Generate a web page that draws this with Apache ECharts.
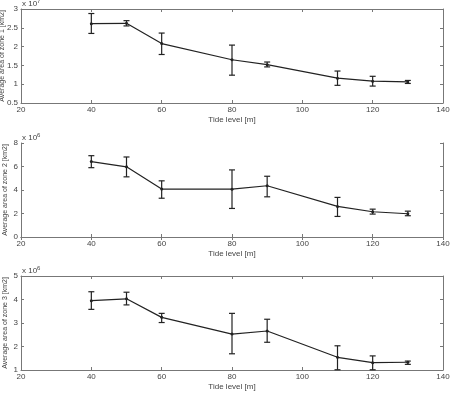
<!DOCTYPE html>
<html>
<head>
<meta charset="utf-8">
<script src="https://cdn.jsdelivr.net/npm/echarts@6/dist/echarts.min.js"></script>
<style>
  html, body { margin: 0; padding: 0; background: #fff; }
  #main { width: 451px; height: 393px; }
</style>
</head>
<body>
<div id="main"></div>
<script>
// tide levels (m)
var tideLevels = [40, 50, 60, 80, 90, 110, 120, 130];

// zone 1 (x 10^7 km2)
var zone1Mean = [2.61, 2.62, 2.08, 1.65, 1.52, 1.16, 1.08, 1.06];
var zone1Low  = [2.35, 2.55, 1.79, 1.24, 1.46, 0.97, 0.95, 1.02];
var zone1High = [2.88, 2.69, 2.36, 2.04, 1.59, 1.35, 1.21, 1.10];

// zone 2 (x 10^6 km2)
var zone2Mean = [6.42, 5.97, 4.08, 4.07, 4.36, 2.60, 2.15, 1.98];
var zone2Low  = [5.90, 5.12, 3.30, 2.43, 3.42, 1.75, 1.95, 1.81];
var zone2High = [6.92, 6.81, 4.78, 5.71, 5.17, 3.37, 2.37, 2.20];

// zone 3 (x 10^6 km2)
var zone3Mean = [3.95, 4.03, 3.24, 2.53, 2.66, 1.54, 1.31, 1.33];
var zone3Low  = [3.58, 3.77, 3.02, 1.69, 2.18, 1.01, 1.01, 1.24];
var zone3High = [4.33, 4.31, 3.41, 3.41, 3.16, 2.03, 1.60, 1.38];

var panels = [
  { top: 9, mean: zone1Mean, low: zone1Low, high: zone1High, min: 0.5, max: 3, step: 0.5, exp: '7', gap: 15, label: 'Average area of zone 1 [km2]' },
  { top: 143, mean: zone2Mean, low: zone2Low, high: zone2High, min: 0, max: 8, step: 2, exp: '6', gap: 12, label: 'Average area of zone 2 [km2]' },
  { top: 276, mean: zone3Mean, low: zone3Low, high: zone3High, min: 1, max: 5, step: 1, exp: '6', gap: 12, label: 'Average area of zone 3 [km2]' }
];

var font = 'Liberation Sans, Arial, sans-serif';
var gridH = 94;

var option = {
  animation: false,
  backgroundColor: '#fff',
  grid: [], xAxis: [], yAxis: [], series: [], graphic: []
};

panels.forEach(function (p, i) {
  option.grid.push({ left: 21, right: 8, top: p.top, height: gridH, containLabel: false, outerBoundsMode: 'none' });
  var axisLine = { show: true, lineStyle: { color: '#777', width: 1 } };
  var tick = { show: true, inside: true, length: 3, lineStyle: { color: '#777' } };
  option.xAxis.push({
    type: 'value', gridIndex: i, min: 20, max: 140, interval: 20,
    name: 'Tide level [m]', nameLocation: 'middle', nameGap: 13, nameMoveOverlap: false,
    nameTextStyle: { fontFamily: font, fontSize: 8, color: '#444', verticalAlign: 'top' },
    axisLine: axisLine, axisTick: tick,
    axisLabel: { fontFamily: font, fontSize: 8, color: '#444', margin: 3 },
    splitLine: { show: false }
  });
  option.xAxis.push({
    type: 'value', gridIndex: i, min: 20, max: 140, interval: 20, position: 'top',
    axisLine: axisLine, axisTick: tick, axisLabel: { show: false }, splitLine: { show: false }
  });
  option.yAxis.push({
    type: 'value', gridIndex: i, min: p.min, max: p.max, interval: p.step,
    name: p.label, nameLocation: 'middle', nameGap: p.gap, nameRotate: 90, nameMoveOverlap: false,
    nameTextStyle: { fontFamily: font, fontSize: 7, color: '#444', verticalAlign: 'bottom' },
    axisLine: axisLine, axisTick: tick,
    axisLabel: { fontFamily: font, fontSize: 8, color: '#444', margin: 3 },
    splitLine: { show: false }
  });
  option.yAxis.push({
    type: 'value', gridIndex: i, min: p.min, max: p.max, interval: p.step, position: 'right',
    axisLine: axisLine, axisTick: tick, axisLabel: { show: false }, splitLine: { show: false }
  });

  var lineData = tideLevels.map(function (x, k) { return [x, p.mean[k]]; });
  var errData = tideLevels.map(function (x, k) { return [x, p.low[k], p.high[k]]; });

  option.series.push({
    type: 'line', xAxisIndex: i * 2, yAxisIndex: i * 2,
    data: lineData, symbol: 'circle', symbolSize: 3,
    lineStyle: { color: '#222', width: 1.2 },
    itemStyle: { color: '#222' }
  });
  option.series.push({
    type: 'custom', xAxisIndex: i * 2, yAxisIndex: i * 2,
    data: errData,
    renderItem: function (params, api) {
      var x = api.value(0);
      var lo = api.coord([x, api.value(1)]);
      var hi = api.coord([x, api.value(2)]);
      var w = 3;
      var st = { stroke: '#222', lineWidth: 1.2 };
      return {
        type: 'group',
        children: [
          { type: 'line', shape: { x1: lo[0], y1: lo[1], x2: hi[0], y2: hi[1] }, style: st },
          { type: 'line', shape: { x1: lo[0] - w, y1: lo[1], x2: lo[0] + w, y2: lo[1] }, style: st },
          { type: 'line', shape: { x1: hi[0] - w, y1: hi[1], x2: hi[0] + w, y2: hi[1] }, style: st }
        ]
      };
    },
    z: 3
  });

  option.graphic.push({
    type: 'text', left: 22, top: p.top - 11,
    style: {
      text: 'x 10{s|' + p.exp + '}',
      font: '8px ' + font, fill: '#444',
      rich: { s: { fontSize: 6, verticalAlign: 'top', padding: [0, 0, 6, 0], fill: '#444' } }
    }
  });
});

var chart = echarts.init(document.getElementById('main'));
chart.setOption(option);
</script>
</body>
</html>
